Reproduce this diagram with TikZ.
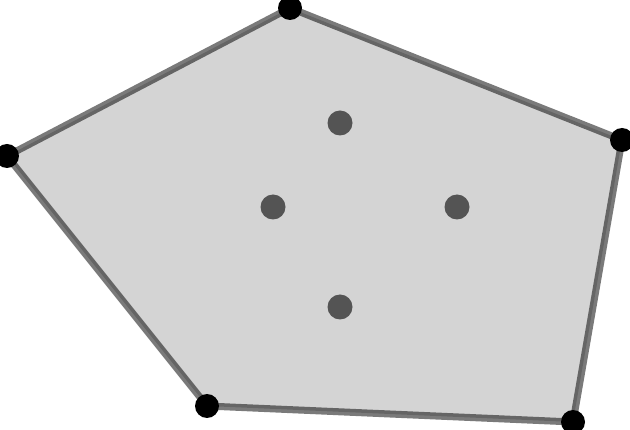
\documentclass[tikz,border=0pt]{standalone}
\begin{document}
\begin{tikzpicture}[x=1pt,y=-1pt,
  vdot/.style={circle,fill=black,inner sep=0pt,minimum size=24pt},
  idot/.style={circle,fill=black!67,inner sep=0pt,minimum size=25pt},
  hull/.style={draw=black,draw opacity=0.52,line width=7pt,fill=black,fill opacity=0.17,line join=round}]
\useasboundingbox (0,0) rectangle (630,430);
\clip (0,0) rectangle (630,430);
\coordinate (p1) at (290,8);
\coordinate (p2) at (622,140);
\coordinate (p3) at (573,422);
\coordinate (p4) at (207,406);
\coordinate (p5) at (7,156);
\foreach \p in {p1,p2,p3,p4,p5} \node[vdot] (d\p) at (\p) {};
\draw[hull] (p1) -- (p2) -- (p3) -- (p4) -- (p5) -- cycle;
\node[idot] (a) at (340,123) {};
\node[idot] (b) at (273,207) {};
\node[idot] (c) at (457,207) {};
\node[idot] (d) at (340,307) {};
\end{tikzpicture}
\end{document}
